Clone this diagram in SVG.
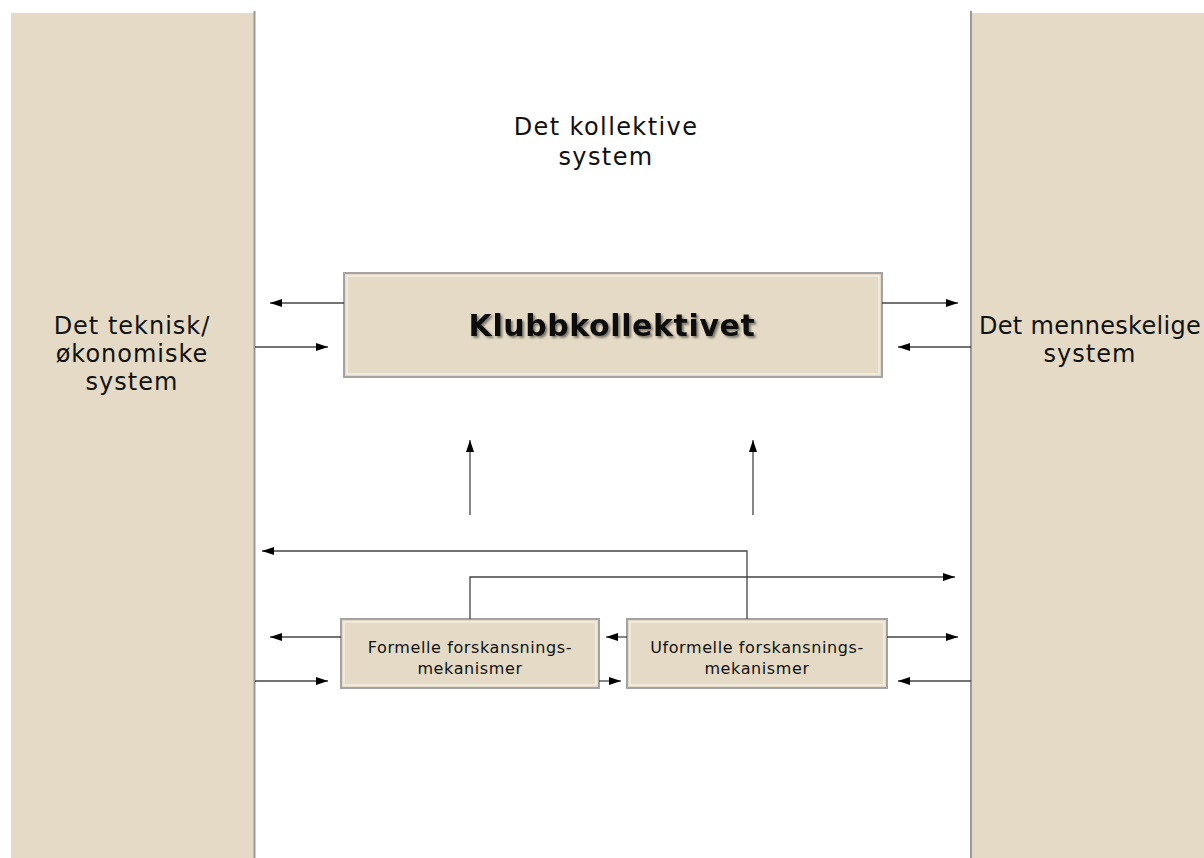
<svg xmlns="http://www.w3.org/2000/svg" width="1204" height="858" viewBox="0 0 1204 858">
<defs>
<marker id="ah" viewBox="0 0 12 10" refX="12" refY="5" markerWidth="12" markerHeight="10" markerUnits="userSpaceOnUse" orient="auto">
<path d="M0,1 L12,5 L0,9 z" fill="#000"/>
</marker>
<filter id="sh" x="-10%" y="-30%" width="120%" height="160%">
<feGaussianBlur in="SourceAlpha" stdDeviation="1.2"/>
<feOffset dx="1.5" dy="1.5"/>
<feComponentTransfer><feFuncA type="linear" slope="0.45"/></feComponentTransfer>
<feMerge><feMergeNode/><feMergeNode in="SourceGraphic"/></feMerge>
</filter>
</defs>
<style>
.panel{fill:#e4dac5}
.sep{stroke:#999;stroke-width:2}
.box{fill:#e4dac5;stroke:#a3a3a3;stroke-width:2}
.inner{fill:none;stroke:#f3eee3;stroke-width:1.5}
.t{font-family:"DejaVu Sans",sans-serif;fill:#111;text-anchor:middle}
.big{font-size:24px;letter-spacing:1px}
.small{font-size:16px;letter-spacing:0.6px}
.title{font-size:30px;font-weight:bold;letter-spacing:0.6px}
.c{fill:none;stroke:#444;stroke-width:1.3}
.a{marker-end:url(#ah)}
</style>
<rect width="1204" height="858" fill="#fff"/>
<g id="left-system">
<rect class="panel" x="11" y="13" width="243" height="845"/>
<line class="sep" x1="254.5" y1="11" x2="254.5" y2="858"/>
<text class="t big"><tspan x="132" y="334">Det teknisk/</tspan><tspan x="132" y="362">økonomiske</tspan><tspan x="132" y="390">system</tspan></text>
</g>
<g id="right-system">
<rect class="panel" x="972" y="13" width="232" height="845"/>
<line class="sep" x1="971" y1="11" x2="971" y2="858"/>
<text class="t big" style="text-anchor:start;letter-spacing:0.3px" x="979" y="334">Det menneskelige</text>
<text class="t big" x="1090" y="362">system</text>
</g>
<g id="collective-label">
<text class="t big" style="letter-spacing:1.4px"><tspan x="606" y="135">Det kollektive</tspan><tspan x="606" y="165">system</tspan></text>
</g>
<g id="klubbkollektivet">
<rect class="box" x="344" y="273" width="538" height="104"/>
<rect class="inner" x="347" y="276" width="532" height="98"/>
<text class="t title" x="612" y="336" filter="url(#sh)">Klubbkollektivet</text>
</g>
<g id="formelle">
<rect class="box" x="341" y="619" width="258" height="69"/>
<rect class="inner" x="344" y="622" width="252" height="63"/>
<text class="t small"><tspan x="470" y="653">Formelle forskansnings-</tspan><tspan x="470" y="674">mekanismer</tspan></text>
</g>
<g id="uformelle">
<rect class="box" x="627" y="619" width="260" height="69"/>
<rect class="inner" x="630" y="622" width="254" height="63"/>
<text class="t small"><tspan x="757" y="653">Uformelle forskansnings-</tspan><tspan x="757" y="674">mekanismer</tspan></text>
</g>
<g id="connectors">
<line class="c a" x1="344" y1="303" x2="270" y2="303"/>
<line class="c a" x1="255" y1="347" x2="328" y2="347"/>
<line class="c a" x1="882" y1="303" x2="958" y2="303"/>
<line class="c a" x1="971" y1="347" x2="898" y2="347"/>
<line class="c a" x1="470" y1="515" x2="470" y2="440"/>
<line class="c a" x1="753" y1="515" x2="753" y2="440"/>
<polyline class="c a" points="747,619 747,551 262,551"/>
<polyline class="c a" points="470,619 470,577 955,577"/>
<line class="c a" x1="341" y1="637" x2="270" y2="637"/>
<line class="c a" x1="255" y1="681" x2="328" y2="681"/>
<line class="c a" x1="627" y1="637" x2="606" y2="637"/>
<line class="c a" x1="599" y1="681" x2="621" y2="681"/>
<line class="c a" x1="887" y1="637" x2="958" y2="637"/>
<line class="c a" x1="971" y1="681" x2="898" y2="681"/>
</g>
</svg>
